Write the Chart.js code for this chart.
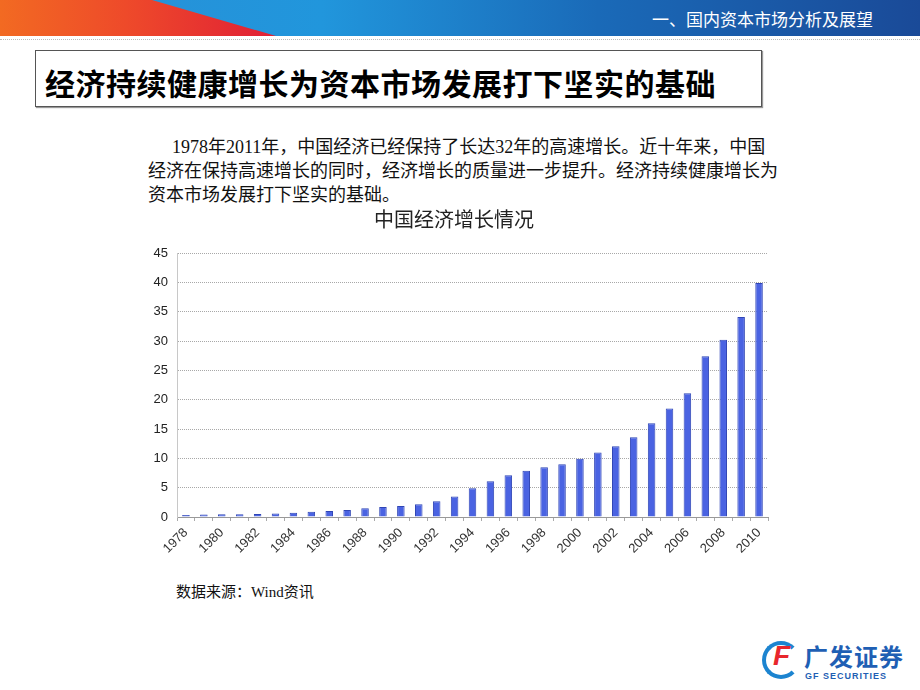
<!DOCTYPE html>
<html>
<head>
<meta charset="utf-8">
<script src="https://cdn.jsdelivr.net/npm/chart.js@4.4.0/dist/chart.umd.min.js"></script>
<style>
body { margin: 0; width: 920px; height: 690px; overflow: hidden; background: #fff; position: relative; font-family: "Noto Sans CJK SC", sans-serif; }
#banner { position: absolute; left: 0; top: 0; width: 920px; height: 36px; background: linear-gradient(90deg, #2a8fd6 0%, #2196dc 35%, #1a6ab8 65%, #1a4a98 100%); overflow: hidden; }
#wedge { position: absolute; left: 0; top: 0; width: 280px; height: 36px; background: linear-gradient(90deg, #f26a22 0%, #ee4a2a 45%, #e01e36 100%); clip-path: polygon(0 0, 152px 0, 276px 36px, 0 36px); }
#banner span { position: absolute; right: 47px; top: 6px; color: #fff; font-size: 17px; }
#rule { position: absolute; left: 0; top: 39px; width: 920px; border-top: 1px dotted #bbb; }
#titlebox { position: absolute; left: 35px; top: 50px; width: 725px; height: 55px; border: 1px solid #555; box-shadow: 1px 1px 1px #999; }
#titlebox div { position: absolute; left: 9px; top: 9px; font-size: 30px; font-weight: bold; color: #000; white-space: nowrap; letter-spacing: 0.5px; }
.para { position: absolute; font-family: "Liberation Serif", "Noto Sans CJK SC", serif; font-size: 18px; color: #111; white-space: nowrap; line-height: 24px; }
#src { position: absolute; left: 176px; top: 580px; font-family: "Liberation Serif", "Noto Sans CJK SC", serif; font-size: 15px; color: #111; }
#wrap { position: absolute; left: 140px; top: 205px; width: 640px; height: 365px; }
#logo { position: absolute; left: 762px; top: 638px; width: 150px; height: 46px; }
#ring { position: absolute; left: 0; top: 3px; width: 30px; height: 30px; border-radius: 50%; border: 4px solid #1c84d0; border-right-color: transparent; }
#ff { position: absolute; left: 11px; top: 2px; color: #e8262c; font: italic bold 28px "Liberation Sans", sans-serif; }
#cn { position: absolute; left: 42px; top: 0px; color: #1f5fb4; font-size: 24px; font-weight: bold; letter-spacing: 1px; }
#en { position: absolute; left: 43px; top: 33px; color: #1f5fb4; font: bold 9px "Liberation Sans", sans-serif; letter-spacing: 1px; }
</style>
</head>
<body>
<div id="banner"><div id="wedge"></div><span>一、国内资本市场分析及展望</span></div>
<div id="rule"></div>
<div id="titlebox"><div>经济持续健康增长为资本市场发展打下坚实的基础</div></div>
<div class="para" style="left:172px; top:135px;">1978年2011年，中国经济已经保持了长达32年的高速增长。近十年来，中国</div>
<div class="para" style="left:148px; top:159px;">经济在保持高速增长的同时，经济增长的质量进一步提升。经济持续健康增长为</div>
<div class="para" style="left:148px; top:183px;">资本市场发展打下坚实的基础。</div>
<div id="wrap"><canvas id="myChart"></canvas></div>
<div id="src">数据来源：Wind资讯</div>
<div id="logo"><div id="ring"></div><div id="ff">F</div><div id="cn">广发证券</div><div id="en">GF SECURITIES</div></div>
<script>
var years = [];
for (var y = 1978; y <= 2010; y++) years.push(String(y));

// GDP, trillion yuan
var gdp = [0.36, 0.41, 0.45, 0.49, 0.53, 0.6, 0.72, 0.9, 1.02, 1.2,
           1.5, 1.7, 1.87, 2.18, 2.7, 3.5, 4.9, 6.1, 7.1, 7.9,
           8.5, 9.0, 9.95, 11.0, 12.05, 13.6, 16.0, 18.5, 21.1, 27.4,
           30.2, 34.1, 39.9];

var yTicks = [0, 5, 10, 15, 20, 25, 30, 35, 40, 45];

var ctx = document.getElementById("myChart");

var myChart = new Chart(ctx, {
    type: 'bar',
    data: {
        labels: years,
        datasets: [{
            label: 'GDP',
            data: gdp,
            backgroundColor: '#4a63e2',
            borderColor: '#2f45b5',
            borderWidth: 1,
            barPercentage: 0.42,
            categoryPercentage: 1
        }]
    },
    options: {
        responsive: true,
        maintainAspectRatio: false,
        animation: false,
        layout: { padding: { right: 12 } },
        plugins: {
            legend: { display: false },
            tooltip: { enabled: false },
            title: {
                display: true,
                text: '中国经济增长情况',
                color: '#222',
                font: { family: 'Noto Sans CJK SC', size: 20, weight: 'normal' },
                padding: { top: 2, bottom: 22 }
            }
        },
        scales: {
            x: {
                grid: { display: true, color: 'rgba(0,0,0,0)', tickColor: '#aaa', tickLength: 4 },
                border: { color: '#999' },
                ticks: {
                    autoSkip: false,
                    minRotation: 45,
                    maxRotation: 45,
                    padding: 4,
                    color: '#333',
                    font: { family: 'Liberation Sans', size: 13 },
                    callback: function(v, i) { return i % 2 == 0 ? years[i] : ''; }
                },
                afterFit: function(s) { s.height = 53; }
            },
            y: {
                min: 0,
                max: 45,
                afterBuildTicks: function(s) { s.ticks = yTicks.map(function(v) { return { value: v }; }); },
                grid: { color: '#a8a8a8', drawTicks: false },
                border: { color: '#c8c8c8', dash: [1, 1] },
                ticks: {
                    padding: 9,
                    color: '#222',
                    font: { family: 'Liberation Sans', size: 13 }
                },
                afterFit: function(s) { s.width = 37; }
            }
        }
    }
});
</script>
</body>
</html>
